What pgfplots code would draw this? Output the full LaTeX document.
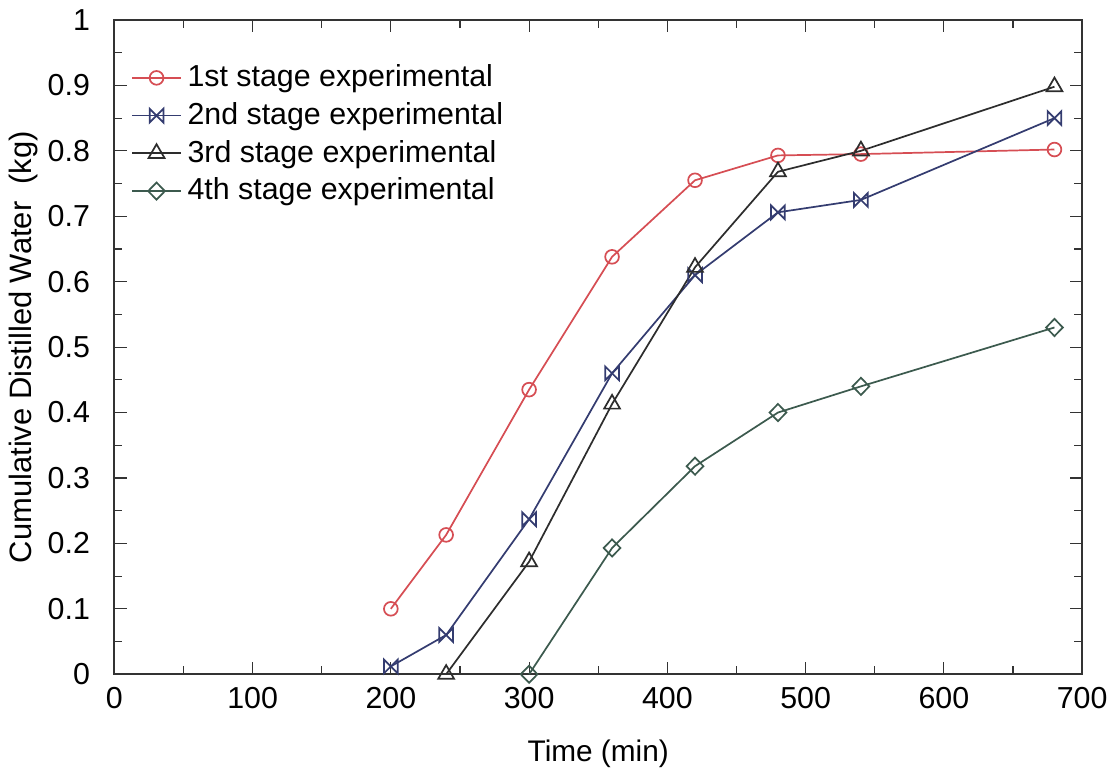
\documentclass[border=0pt]{standalone}
\usepackage{pgfplots}
\pgfplotsset{compat=1.18}
\usepackage{fontspec}
\setmainfont{Liberation Sans}
\definecolor{c1}{RGB}{214,78,84}
\definecolor{c2}{RGB}{52,60,112}
\definecolor{c3}{RGB}{45,45,45}
\definecolor{c4}{RGB}{60,90,78}
\pgfdeclareplotmark{bowtie}{%
  \pgfpathmoveto{\pgfqpoint{-\pgfplotmarksize}{-\pgfplotmarksize}}%
  \pgfpathlineto{\pgfqpoint{\pgfplotmarksize}{\pgfplotmarksize}}%
  \pgfpathlineto{\pgfqpoint{\pgfplotmarksize}{-\pgfplotmarksize}}%
  \pgfpathlineto{\pgfqpoint{-\pgfplotmarksize}{\pgfplotmarksize}}%
  \pgfpathclose
  \pgfusepathqstroke}
\begin{document}
\begin{tikzpicture}
\begin{axis}[
  scale only axis, width=338pt, height=228.5pt,
  xmin=0, xmax=700, ymin=0, ymax=1,
  xtick={0,100,...,700}, ytick={0,0.1,...,1.0},
  yticklabel style={/pgf/number format/fixed, xshift=-5pt},
  xticklabel style={yshift=-1pt},
  minor x tick num=1, minor y tick num=1,
  tick align=inside, tick pos=both,
  /pgf/number format/assume math mode=true,
  xlabel={Time (min)}, ylabel={Cumulative Distilled Water\ \ (kg)},
  xlabel style={yshift=-4pt, font=\fontsize{10.4}{12}\selectfont},
  ylabel style={yshift=-3.6pt, font=\fontsize{10.8}{12}\selectfont},
  axis line style={line width=0.7pt, black!80},
  every tick/.style={black!80},
  legend style={draw=none, fill=none, at={(0.008,0.95)}, anchor=north west, row sep=0pt, font=\fontsize{10.6}{12.5}\selectfont},
  legend cell align=left,
  every axis plot/.append style={line width=0.6pt, mark options={solid, fill=white}},
  mark size=2.4pt,
  ticklabel style={font=\fontsize{10.6}{12}\selectfont},
]
\addplot[color=c1, mark=o] coordinates {(200,0.10) (240,0.213) (300,0.435) (360,0.638) (420,0.755) (480,0.793) (540,0.795) (680,0.802)};
\addlegendentry{1st stage experimental}
\addplot[color=c2, mark=bowtie] coordinates {(200,0.012) (240,0.06) (300,0.237) (360,0.46) (420,0.61) (480,0.706) (540,0.725) (680,0.85)};
\addlegendentry{2nd stage experimental}
\addplot[color=c3, mark=triangle, mark size=3.2pt] coordinates {(240,0.0) (300,0.172) (360,0.413) (420,0.622) (480,0.768) (540,0.80) (680,0.898)};
\addlegendentry{3rd stage experimental}
\addplot[color=c4, mark=diamond, mark size=3pt, mark options={solid, fill=white, xscale=1.3}] coordinates {(300,0.0) (360,0.193) (420,0.318) (480,0.40) (540,0.44) (680,0.53)};
\addlegendentry{4th stage experimental}
\end{axis}
\end{tikzpicture}
\end{document}
